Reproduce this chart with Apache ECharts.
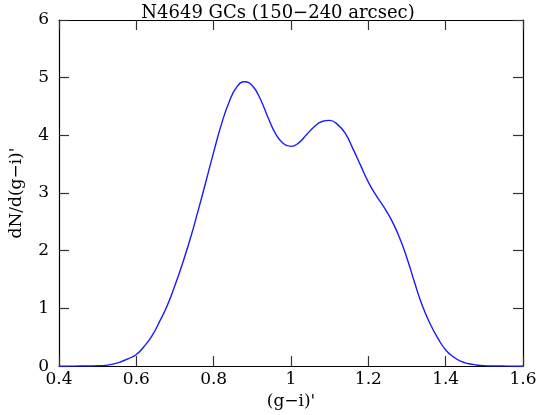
<!DOCTYPE html>
<html>
<head>
<meta charset="utf-8">
<script src="https://cdn.jsdelivr.net/npm/echarts@6/dist/echarts.min.js"></script>
<style>html,body{margin:0;padding:0;background:#fff;}#c{width:556px;height:415px;}</style>
</head>
<body>
<div id="c"></div>
<script>
const titleText = "N4649 GCs (150\u2212240 arcsec)";
const xName = "(g\u2212i)'";
const yName = "dN/d(g\u2212i)'";
const xTicks = [0.4, 0.6, 0.8, 1, 1.2, 1.4, 1.6];
const yTicks = [0, 1, 2, 3, 4, 5, 6];
const colorX = [0.40,0.42,0.44,0.46,0.48,0.50,0.52,0.54,0.56,0.58,0.60,0.62,0.64,0.66,0.68,0.70,0.72,0.74,0.76,0.78,0.80,0.82,0.84,0.86,0.88,0.90,0.92,0.94,0.96,0.98,1.00,1.02,1.04,1.06,1.08,1.10,1.12,1.14,1.16,1.18,1.20,1.22,1.24,1.26,1.28,1.30,1.32,1.34,1.36,1.38,1.40,1.42,1.44,1.46,1.48,1.50,1.52,1.54,1.56,1.58,1.60];
const density = [0,0,0,0.001,0.003,0.005,0.012,0.035,0.075,0.13,0.20,0.34,0.52,0.77,1.05,1.40,1.79,2.22,2.70,3.20,3.71,4.19,4.58,4.84,4.93,4.86,4.64,4.32,4.03,3.86,3.81,3.87,4.01,4.15,4.24,4.26,4.19,4.04,3.77,3.48,3.19,2.96,2.76,2.53,2.24,1.87,1.44,1.04,0.73,0.48,0.28,0.16,0.08,0.04,0.02,0.008,0.003,0.001,0,0,0];

const font = 'DejaVu Serif';
const chart = echarts.init(document.getElementById('c'));
const tickStyle = {show:true, inside:true, length:10, lineStyle:{color:'#333', width:1.2}};
const axLine = {show:true, onZero:false, lineStyle:{color:'#000', width:1.2}};
chart.setOption({
  animation:false,
  title:{text:titleText, left:'center', top:-1, textStyle:{fontFamily:font, fontWeight:'normal', fontSize:18, color:'#000'}},
  grid:{left:56, right:33, top:20, bottom:47},
  xAxis:[
    {type:'value', position:'bottom', min:xTicks[0], max:xTicks[xTicks.length-1], interval:0.2,
     axisLine:axLine, axisTick:tickStyle, splitLine:{show:false},
     axisLabel:{fontFamily:font, fontSize:17, color:'#000', margin:5, formatter:v=>String(+v.toFixed(1))},
     name:xName, nameLocation:'middle', nameGap:25, nameTextStyle:{fontFamily:font, fontSize:17, color:'#000'}},
    {type:'value', position:'top', min:xTicks[0], max:xTicks[xTicks.length-1], interval:0.2,
     axisLine:axLine, axisTick:tickStyle, axisLabel:{show:false}, splitLine:{show:false}}
  ],
  yAxis:[
    {type:'value', position:'left', min:yTicks[0], max:yTicks[yTicks.length-1], interval:1,
     axisLine:axLine, axisTick:tickStyle, splitLine:{show:false},
     axisLabel:{fontFamily:font, fontSize:17, color:'#000', margin:10},
     name:yName, nameLocation:'middle', nameGap:34, nameRotate:90, nameTextStyle:{fontFamily:font, fontSize:17, color:'#000'}},
    {type:'value', position:'right', min:yTicks[0], max:yTicks[yTicks.length-1], interval:1,
     axisLine:axLine, axisTick:tickStyle, axisLabel:{show:false}, splitLine:{show:false}}
  ],
  series:[{type:'line', xAxisIndex:0, yAxisIndex:0, data:colorX.map((x,i)=>[x,density[i]]),
    smooth:0.5, showSymbol:false, lineStyle:{color:'#1a1aff', width:1.4}}]
});
</script>
</body>
</html>
